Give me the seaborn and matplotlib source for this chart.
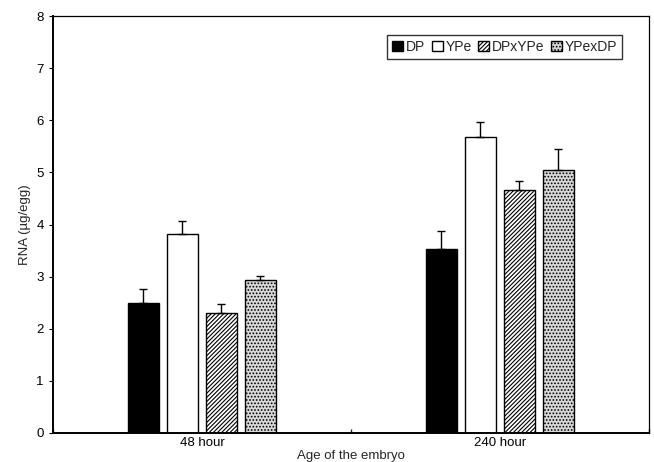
import pandas as pd
import numpy as np
import matplotlib.pyplot as plt
import seaborn as sns

# values
ages = ['48 hour', '240 hour']
strains = ['DP', 'YPe', 'DPxYPe', 'YPexDP']
rna_48 = [2.49, 3.82, 2.30, 2.94]
rna_240 = [3.53, 5.68, 4.66, 5.05]
err_48 = [0.27, 0.25, 0.18, 0.08]
err_240 = [0.35, 0.29, 0.17, 0.40]

df = pd.DataFrame({
    'Age': [ages[0]] * 4 + [ages[1]] * 4,
    'Strain': strains * 2,
    'RNA': rna_48 + rna_240,
    'err': err_48 + err_240,
})

fills = ['black', 'white', 'white', '#d9d9d9']
hatches = ['', '', '////////', '.....']

sns.set_theme(style='white')
plt.rcParams['font.family'] = ['Liberation Sans', 'DejaVu Sans']
plt.rcParams['hatch.linewidth'] = 0.8

fig = plt.figure(figsize=(6.54, 4.62), dpi=100)
ax = fig.add_axes([0.081, 0.063, 0.911, 0.902])

sns.barplot(data=df, x='Age', y='RNA', hue='Strain', order=ages, hue_order=strains,
            palette=fills, width=0.523, gap=0.2, errorbar=None,
            edgecolor='black', linewidth=1.0, ax=ax)

# hatching + upper-only error bars, one container per strain
bar_groups = list(ax.containers)
for i, cont in enumerate(bar_groups):
    sub = df[df['Strain'] == strains[i]].set_index('Age').loc[ages]
    xs = []
    for bar in cont:
        bar.set_hatch(hatches[i])
        bar.set_facecolor(fills[i])
        xs.append(bar.get_x() + bar.get_width() / 2)
    ax.errorbar(xs, sub['RNA'], yerr=[np.zeros(len(xs)), sub['err']],
                fmt='none', ecolor='black', elinewidth=1.0, capsize=3, capthick=1.0)

ax.set_ylim(0, 8)
ax.set_xlim(-0.5, 1.5)
ax.set_yticks(range(0, 9))
ax.tick_params(axis='y', direction='out', length=3, width=0.8, left=True, labelsize=9.5, colors='black')
ax.tick_params(axis='x', length=0, labelsize=9.5, colors='black', pad=3)
ax.set_xticks([-0.5, 0.5, 1.5], minor=True)
ax.tick_params(axis='x', which='minor', direction='in', length=3, bottom=True)
ax.set_xlabel('Age of the embryo', fontsize=9.5, labelpad=1)
ax.set_ylabel('RNA (µg/egg)', fontsize=9.5)

for s in ax.spines.values():
    s.set_color('black')
    s.set_linewidth(0.9)
ax.spines['left'].set_linewidth(1.4)
ax.spines['bottom'].set_linewidth(1.4)

leg = ax.legend(loc='upper right', bbox_to_anchor=(0.955, 0.955), ncol=4,
                frameon=True, fancybox=False, fontsize=10, handlelength=0.8,
                handleheight=0.8, handletextpad=0.2, columnspacing=0.45,
                borderpad=0.35, borderaxespad=0)
leg.get_frame().set_edgecolor('black')
leg.get_frame().set_linewidth(1.0)
for i, h in enumerate(leg.legend_handles):
    h.set_facecolor(fills[i])
    h.set_hatch(hatches[i])
    h.set_edgecolor('black')

fig.savefig('out.png', dpi=100)
